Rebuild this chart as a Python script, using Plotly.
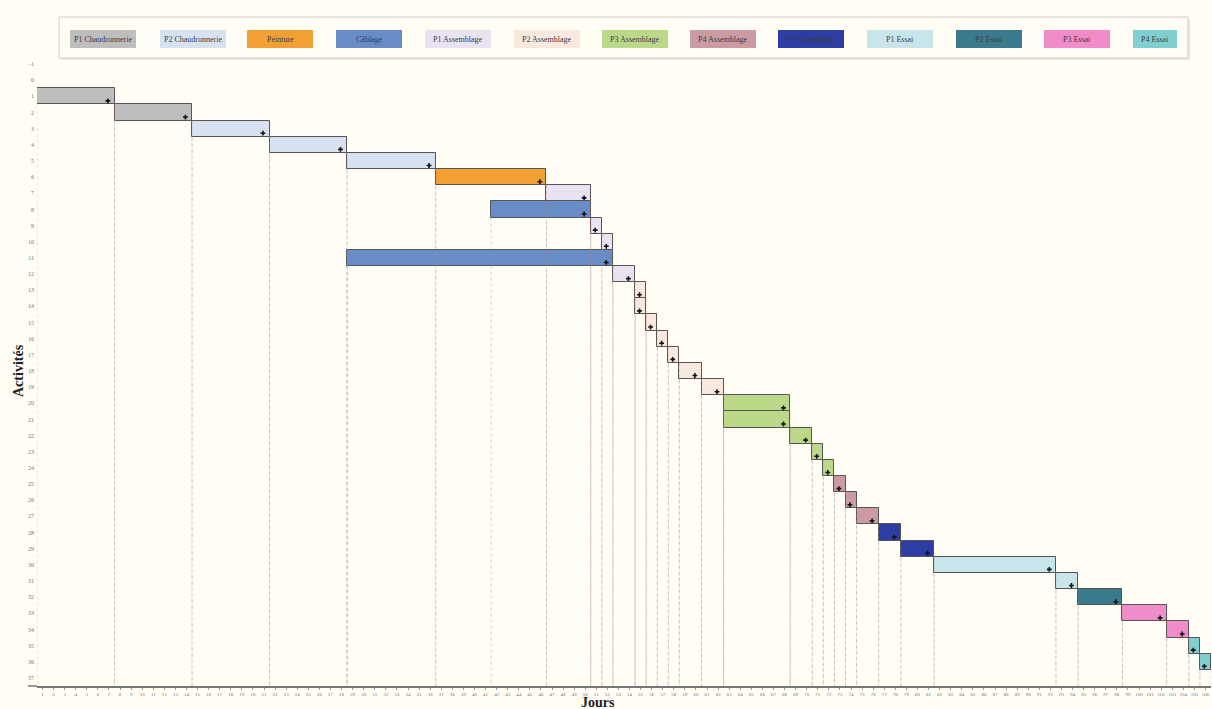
import plotly.graph_objects as go

# ---------------- data ----------------
task_names = ["P1 Chaudronnerie", "P2 Chaudronnerie", "Peinture", "Câblage",
              "P1 Assemblage", "P2 Assemblage", "P3 Assemblage", "P4 Assemblage",
              "P5 Assemblage", "P1 Essai", "P2 Essai", "P3 Essai", "P4 Essai"]
task_colors = ["#bebebe", "#d6e2ef", "#f2a033", "#678cc6",
               "#e9e2f0", "#f9e8de", "#bcd98a", "#cc9aa1",
               "#2c3ea6", "#c7e5eb", "#3a7a8c", "#f08cc8", "#80cfd1"]

rows = list(range(1, 37))
row_task = ["P1 Chaudronnerie", "P1 Chaudronnerie",
            "P2 Chaudronnerie", "P2 Chaudronnerie", "P2 Chaudronnerie",
            "Peinture", "P1 Assemblage", "Câblage", "P1 Assemblage", "P1 Assemblage",
            "Câblage", "P1 Assemblage",
            "P2 Assemblage", "P2 Assemblage", "P2 Assemblage", "P2 Assemblage",
            "P2 Assemblage", "P2 Assemblage", "P2 Assemblage",
            "P3 Assemblage", "P3 Assemblage", "P3 Assemblage", "P3 Assemblage", "P3 Assemblage",
            "P4 Assemblage", "P4 Assemblage", "P4 Assemblage",
            "P5 Assemblage", "P5 Assemblage",
            "P1 Essai", "P1 Essai", "P2 Essai", "P3 Essai", "P3 Essai",
            "P4 Essai", "P4 Essai"]
starts = [0, 7, 14, 21, 28, 36, 46, 41, 50, 51, 28, 52, 54, 54, 55, 56, 57, 58, 60,
          62, 62, 68, 70, 71, 72, 73, 74, 76, 78, 81, 92, 94, 98, 102, 104, 105]
ends = [7, 14, 21, 28, 36, 46, 50, 50, 51, 52, 52, 54, 55, 55, 56, 57, 58, 60, 62,
        68, 68, 70, 71, 72, 73, 74, 76, 78, 81, 92, 94, 98, 102, 104, 105, 106]

y_ticks = list(range(-1, 38))
x_days = list(range(1, 107))

# ---------------- layout geometry ----------------
W, H = 1212, 709
L, R, T, B = 37, 1, 56, 23
PW, PH = W - L - R, H - T - B


def px(x):
    return (x - L) / PW


def py(y):
    return (H - B - y) / PH


BG = "#fffdf4"
FONT = "Liberation Serif"
Y_BOTTOM = 37.5

fig = go.Figure()

# bars, one trace per task
for name, col in zip(task_names, task_colors):
    idx = [i for i, t in enumerate(row_task) if t == name]
    fig.add_trace(go.Bar(
        orientation="h",
        y=[rows[i] for i in idx],
        base=[starts[i] for i in idx],
        x=[ends[i] - starts[i] for i in idx],
        width=1.0,
        marker=dict(color=col, line=dict(color="#555555", width=1)),
        name=name, showlegend=False, hoverinfo="skip",
    ))

# dotted drop lines from bar edges down to the axis
sx, sy, ex, ey = [], [], [], []
for r, s, e in zip(rows, starts, ends):
    sx += [s, s, None]
    sy += [r + 0.5, Y_BOTTOM, None]
    ex += [e, e, None]
    ey += [r + 0.5, Y_BOTTOM, None]
fig.add_trace(go.Scatter(x=sx, y=sy, mode="lines",
                         line=dict(color="rgba(120,160,200,0.55)", width=0.8, dash="dot"),
                         showlegend=False, hoverinfo="skip"))
fig.add_trace(go.Scatter(x=ex, y=ey, mode="lines",
                         line=dict(color="rgba(215,120,120,0.45)", width=0.8, dash="dot"),
                         showlegend=False, hoverinfo="skip"))

# end markers
fig.add_trace(go.Scatter(
    x=[e - 0.6 for e in ends], y=[r + 0.28 for r in rows], mode="markers",
    marker=dict(symbol="cross", size=4, color="#111111"),
    showlegend=False, hoverinfo="skip"))

# ---------------- custom legend ----------------
shapes = []
annotations = []
shapes.append(dict(type="rect", xref="paper", yref="paper",
                   x0=px(61), x1=px(1190), y0=py(60), y1=py(19),
                   line=dict(width=0), fillcolor="rgba(0,0,0,0.08)", layer="above"))
shapes.append(dict(type="rect", xref="paper", yref="paper",
                   x0=px(59), x1=px(1188), y0=py(58), y1=py(17),
                   line=dict(color="#cfcfcf", width=1), fillcolor=BG, layer="above"))
item_left = [70, 160, 247, 336, 425, 514, 602, 690, 778, 867, 956, 1044, 1133]
item_w = [66, 66, 66, 66, 66, 66, 66, 66, 66, 66, 66, 66, 44]
for name, col, xl, w in zip(task_names, task_colors, item_left, item_w):
    shapes.append(dict(type="rect", xref="paper", yref="paper",
                       x0=px(xl), x1=px(xl + w), y0=py(48), y1=py(30),
                       line=dict(width=0), fillcolor=col, layer="above"))
    annotations.append(dict(x=px(xl + w / 2), y=py(39), xref="paper", yref="paper",
                            text=name, showarrow=False,
                            font=dict(family=FONT, size=8, color="#3a3a4a"),
                            xanchor="center", yanchor="middle"))

# axis titles
annotations.append(dict(x=px(598), y=py(703), xref="paper", yref="paper",
                        text="<b>Jours</b>", showarrow=False,
                        font=dict(family=FONT, size=14, color="#222222"),
                        xanchor="center", yanchor="middle"))
annotations.append(dict(x=px(18), y=py(371), xref="paper", yref="paper",
                        text="<b>Activités</b>", showarrow=False, textangle=-90,
                        font=dict(family=FONT, size=14, color="#222222"),
                        xanchor="center", yanchor="middle"))

# extension of the x-axis line to the left
shapes.append(dict(type="line", xref="paper", yref="paper",
                   x0=px(28), x1=px(37), y0=0, y1=0,
                   line=dict(color="#777777", width=1.5)))

fig.update_layout(
    width=W, height=H,
    margin=dict(l=L, r=R, t=T, b=B, pad=0),
    paper_bgcolor=BG, plot_bgcolor=BG,
    barmode="overlay", bargap=0,
    shapes=shapes, annotations=annotations,
    showlegend=False,
    xaxis=dict(range=[0, 106], showgrid=False, zeroline=False,
               tickmode="array", tickvals=[d - 0.5 for d in x_days],
               ticktext=[str(d) for d in x_days],
               tickfont=dict(family=FONT, size=5, color="#777777"),
               ticks="outside", ticklen=2, tickcolor="#999999",
               showline=True, linecolor="#777777", linewidth=1.5),
    yaxis=dict(range=[Y_BOTTOM, -1.5], showgrid=False, zeroline=False,
               tickmode="array", tickvals=y_ticks, ticktext=[str(v) for v in y_ticks],
               tickfont=dict(family=FONT, size=6, color="#777777"),
               ticks="", showline=False, ticklabelstandoff=2),
)

fig.write_html("out.html", config={"displayModeBar": False},
               post_script="document.body.style.margin='0';")
